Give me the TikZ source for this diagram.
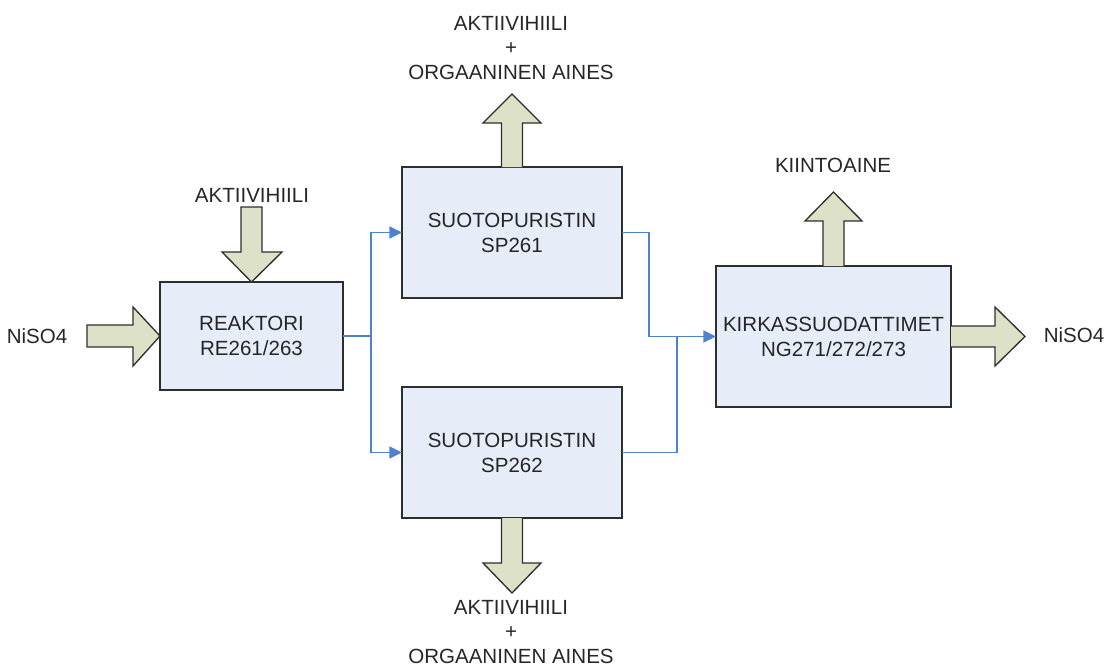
\documentclass[tikz,border=0pt]{standalone}
\usepackage{fontspec}
\setmainfont{Liberation Sans}
\usetikzlibrary{arrows.meta}
\definecolor{boxfill}{HTML}{E6ECF8}
\definecolor{fatfill}{HTML}{DDE1C8}
\definecolor{flowblue}{HTML}{4F82CC}
\definecolor{edge}{HTML}{2E2E2E}
\tikzset{
  proc/.style={draw=edge, line width=1.5pt, fill=boxfill, inner sep=0pt, outer sep=0pt,
    align=center, font=\fontsize{15.4}{18.8}\selectfont, text=black!85},
  fat/.style={draw=edge, line width=1pt, fill=fatfill, line join=miter},
  lbl/.style={align=center, inner sep=0pt, font=\fontsize{15.4}{18.2}\selectfont, text=black!85},
  flow/.style={draw=flowblue, line width=1.2pt},
  flowarr/.style={flow, -{Triangle[length=9.5pt,width=9pt]}}
}
\begin{document}
\begin{tikzpicture}[x=0.75pt,y=-0.75pt]
\useasboundingbox (0,0) rectangle (1106,667);
% boxes
\node[proc, minimum width={183*0.75pt}, minimum height={108*0.75pt}] (re) at (251.5,336) {REAKTORI\\RE261/263};
\node[proc, minimum width={220*0.75pt}, minimum height={131*0.75pt}] (sp1) at (512,232.5) {SUOTOPURISTIN\\SP261};
\node[proc, minimum width={220*0.75pt}, minimum height={131*0.75pt}] (sp2) at (512,452.5) {SUOTOPURISTIN\\SP262};
\node[proc, minimum width={235*0.75pt}, minimum height={141*0.75pt}] (ki) at (833.5,336.5) {KIRKASSUODATTIMET\\NG271/272/273};
% labels
\node[lbl] (l1) at (37,336) {NiSO4};
\node[lbl] (l2) at (252,195) {AKTIIVIHIILI};
\node[lbl] (l3) at (511,48) {AKTIIVIHIILI\\+\\ORGAANINEN AINES};
\node[lbl] (l4) at (511,632) {AKTIIVIHIILI\\+\\ORGAANINEN AINES};
\node[lbl] (l5) at (833,165) {KIINTOAINE};
\node[lbl] (l6) at (1074,335) {NiSO4};
% fat arrows
\draw[fat] (87,325) -- (133,325) -- (133,307) -- (re.west) -- (133,366) -- (133,347) -- (87,347) -- cycle;
\draw[fat] (241,207) -- (262,207) -- (262,252) -- (282,252) -- (re.north) -- (222,252) -- (241,252) -- cycle;
\draw[fat] (501.5,167) -- (501.5,123) -- (483,123) -- (512,94) -- (541,123) -- (522.5,123) -- (522.5,167);
\draw[fat] (501.5,518) -- (501.5,563) -- (483,563) -- (512,593) -- (541,563) -- (522.5,563) -- (522.5,518);
\draw[fat] (823,266) -- (823,221) -- (805,221) -- (833.5,192) -- (862,221) -- (844,221) -- (844,266);
\draw[fat] (951,326) -- (995,326) -- (995,307) -- (1025,336.5) -- (995,366) -- (995,347) -- (951,347);
% flow lines
\coordinate (s) at (371,336);
\coordinate (m) at (677,336.5);
\draw[flow] (re.east) -- (s);
\draw[flowarr] (s) |- (sp1.west);
\draw[flowarr] (s) |- (sp2.west);
\draw[flow] (sp1.east) -- (649,232.5) |- (m);
\draw[flow] (sp2.east) -| (m);
\draw[flowarr] (m) -- (ki.west);
\end{tikzpicture}
\end{document}
